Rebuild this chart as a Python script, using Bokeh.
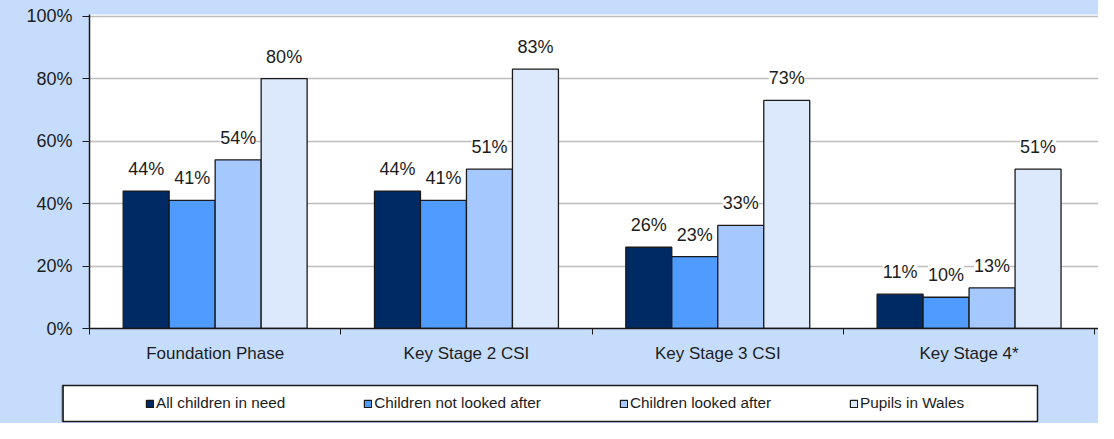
from bokeh.plotting import figure
from bokeh.layouts import column
from bokeh.core.properties import value
from bokeh.models import (Range1d, FixedTicker, PrintfTickFormatter, LabelSet,
                          ColumnDataSource, Legend, LegendItem)
from bokeh.embed import file_html
from bokeh.resources import INLINE

# ---- data ----
categories = ["Foundation Phase", "Key Stage 2 CSI", "Key Stage 3 CSI", "Key Stage 4*"]
series_names = ["All children in need", "Children not looked after",
                "Children looked after", "Pupils in Wales"]
all_children_in_need = [44, 44, 26, 11]
children_not_looked_after = [41, 41, 23, 10]
children_looked_after = [54, 51, 33, 13]
pupils_in_wales = [80, 83, 73, 51]
y_ticks = [0, 20, 40, 60, 80, 100]

series_values = [all_children_in_need, children_not_looked_after,
                 children_looked_after, pupils_in_wales]
colors = ["#002a63", "#4f9bff", "#a5c9ff", "#dce9fd"]

BG = "#c6dcfc"
TXT = "#1c1c1c"
FONT = "Liberation Sans"
BW = 0.183

p = figure(width=1098, height=372, x_range=Range1d(0, 4.015), y_range=Range1d(0, 100.5),
           output_backend="svg", toolbar_location=None,
           min_border_left=89, min_border_right=0, min_border_top=14, min_border_bottom=44,
           background_fill_color="white", border_fill_color=BG, outline_line_color=None)

sources = []
for j, (name, vals, col) in enumerate(zip(series_names, series_values, colors)):
    xs = [i + 0.5 + (j - 1.5) * BW for i in range(len(categories))]
    src = ColumnDataSource(dict(x=xs, top=vals, label=[f"{v}%" for v in vals]))
    sources.append(src)
    p.vbar(x="x", top="top", width=BW, source=src, fill_color=col,
           line_color="#1a1a1a", line_width=1.3)
    p.add_layout(LabelSet(x="x", y="top", text="label", source=src, text_align="center",
                          text_baseline="bottom", y_offset=12, text_font=value(FONT),
                          text_font_size="18px", text_color=TXT,
                          background_fill_color="white", level="underlay"))

yt = FixedTicker(ticks=y_ticks)
p.yaxis.ticker = yt
p.ygrid.ticker = yt
p.yaxis.formatter = PrintfTickFormatter(format="%d%%")
p.yaxis.axis_line_color = "#1a1a1a"
p.yaxis.axis_line_width = 1.5
p.yaxis.major_tick_out = 7
p.yaxis.major_tick_in = 0
p.yaxis.major_tick_line_color = "#1a1a1a"
p.yaxis.minor_tick_line_color = None
p.yaxis.major_label_standoff = 10
p.yaxis.major_label_text_font = FONT
p.yaxis.major_label_text_font_size = "18px"
p.yaxis.major_label_text_color = TXT

p.xaxis.ticker = FixedTicker(ticks=[i + 0.5 for i in range(len(categories))],
                             minor_ticks=list(range(len(categories) + 1)))
p.xaxis.major_label_overrides = {i + 0.5: c for i, c in enumerate(categories)}
p.xaxis.axis_line_color = "#1a1a1a"
p.xaxis.axis_line_width = 1.5
p.xaxis.major_tick_line_color = None
p.xaxis.major_tick_out = 0
p.xaxis.major_tick_in = 0
p.xaxis.minor_tick_line_color = "#1a1a1a"
p.xaxis.minor_tick_out = 6
p.xaxis.minor_tick_in = 0
p.xaxis.major_label_standoff = 9
p.xaxis.major_label_text_font = FONT
p.xaxis.major_label_text_font_size = "17px"
p.xaxis.major_label_text_color = TXT

p.xgrid.visible = False
p.ygrid.grid_line_color = "#bdbdbd"
p.ygrid.grid_line_width = 1.5

# ---- legend panel (its frame is the white legend box) ----
p2 = figure(width=1098, height=51, x_range=Range1d(100, 101), y_range=Range1d(0, 1),
            output_backend="svg", toolbar_location=None,
            x_axis_location=None, y_axis_location=None,
            min_border_left=62, min_border_right=61, min_border_top=13, min_border_bottom=2,
            background_fill_color="white", border_fill_color=BG,
            outline_line_color="#1a1a1a", outline_line_width=1.5)
p2.grid.grid_line_color = None

for fig in (p, p2):
    try:
        fig.frame_align = False
    except AttributeError:
        pass

items = []
for name, col, src in zip(series_names, colors, sources):
    # same data as the bars; the legend panel's range shows none of them
    r = p2.vbar(x="x", top="top", width=BW, source=src, fill_color=col,
                line_color="#1a1a1a", line_width=1.2)
    items.append(LegendItem(label=name, renderers=[r]))

legend = Legend(items=items, orientation="horizontal", location=(83, 9),
                glyph_width=9, glyph_height=9, label_standoff=2, spacing=78,
                padding=0, margin=0, border_line_color=None, background_fill_alpha=0,
                label_text_font=FONT, label_text_font_size="15.3px",
                label_text_color=TXT, label_height=18)
p2.add_layout(legend)

layout = column(p, p2, spacing=0,
                styles={"box-shadow": "-1.5px -1.5px 0 0 #1e2838", "background-color": BG})

open("out.html", "w").write(file_html(layout, INLINE))
